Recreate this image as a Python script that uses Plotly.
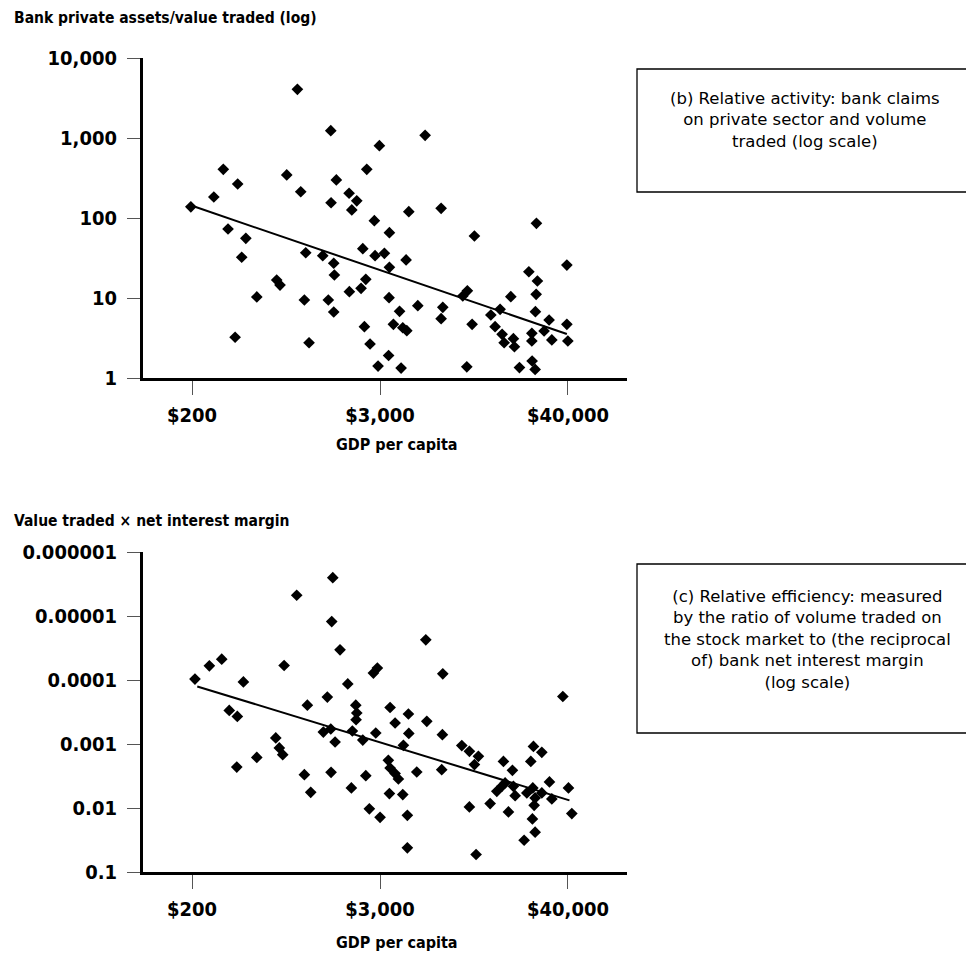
import plotly.graph_objects as go

# ---------------- data ----------------
# Panel (b): GDP per capita ($) vs bank private assets / value traded
gdp_b = [910, 1470, 2955, 314, 781, 2465, 386, 1592, 274, 955,
         1912, 2135, 1476, 1988, 197, 2749, 3412, 336, 434, 409,
         1026, 1310, 1534, 1548, 2328, 2777, 3175, 3412, 676, 709,
         2431, 2271, 1920, 508, 1006, 1419, 1534, 3395, 3948, 372,
         1076, 2383, 2584, 3613, 2899, 3372, 4036,
         5699, 4508, 7172, 11570, 28195, 4337, 43650, 25285, 28590, 28080,
         10455, 9789, 5131, 7346, 7172, 19517, 16731, 14650, 27780, 11193,
         4134, 4381, 15569, 17222, 17731, 20251, 20556, 26393, 26393, 33825,
         31477, 35170, 43650, 44270, 10372, 22092, 26500, 27670]
val_b = [4060, 1234, 801, 406, 345, 406, 266, 299, 183, 213,
         204, 164, 155, 126, 138, 92.5, 65.5, 72.9, 55.7, 32.3,
         36.8, 33.8, 27.2, 19.4, 41.3, 33.8, 36.2, 24.2, 16.8, 14.5,
         17.1, 13.2, 12.0, 10.3, 9.44, 9.44, 6.68, 10.1, 6.82, 3.23,
         2.76, 4.38, 2.66, 4.69, 1.41, 1.91, 1.33,
         1081, 120, 132, 59.6, 85.9, 29.9, 25.8, 21.3, 16.3, 11.1,
         12.3, 10.6, 8.01, 7.65, 5.51, 10.4, 7.22, 6.13, 6.74, 4.69,
         4.25, 3.90, 4.38, 3.52, 2.76, 3.10, 2.46, 3.62, 2.90, 5.31,
         3.87, 2.99, 4.69, 2.90, 1.38, 1.35, 1.63, 1.28]
trend_b_x = [209, 43650]
trend_b_y = [138, 3.55]

# Panel (c): GDP per capita ($) vs value traded x net interest margin
gdp_c = [1513, 901, 1490, 1679, 307, 257, 752, 209, 419, 1876,
         2870, 2711, 1050, 1399, 2105, 2135, 2114, 3446, 3703, 342,
         384, 1321, 1470, 1564, 2004, 2328, 2805, 667, 702, 737,
         508, 381, 1006, 1476, 2431, 3361, 3446, 3703, 1102, 1976,
         3412, 2558, 2984,
         5756, 7346, 41190, 4484, 5838, 4508, 7303, 4171, 9652, 10763,
         12250, 11570, 27010, 30460, 26004, 17553, 19969, 3882, 5054, 7233,
         4134, 4416, 4416, 10763, 11850, 14500, 15962, 17154, 17981, 18860,
         20251, 20765, 24564, 26770, 27670, 27286, 30460, 35170, 33990, 44670,
         46870, 26610, 27670, 23623]
val_c = [2.52e-6, 4.74e-6, 1.22e-5, 3.38e-5, 4.72e-5, 6.0e-5, 5.94e-5, 9.68e-5, 1.07e-4, 1.15e-4,
         6.51e-5, 7.80e-5, 2.47e-4, 1.85e-4, 2.47e-4, 3.28e-4, 4.18e-4, 2.69e-4, 4.70e-4, 2.99e-4,
         3.71e-4, 6.50e-4, 5.83e-4, 9.31e-4, 6.26e-4, 8.67e-4, 6.73e-4, 8.05e-4, 1.15e-3, 1.47e-3,
         1.62e-3, 2.29e-3, 3.01e-3, 2.77e-3, 3.13e-3, 1.80e-3, 2.37e-3, 2.90e-3, 5.69e-3, 4.85e-3,
         5.96e-3, 1.03e-2, 1.40e-2,
         2.36e-5, 8.0e-5, 1.81e-4, 3.40e-4, 4.43e-4, 6.84e-4, 7.16e-4, 1.05e-3, 1.06e-3, 1.30e-3,
         1.56e-3, 2.10e-3, 1.09e-3, 1.35e-3, 1.87e-3, 1.87e-3, 2.58e-3, 3.52e-3, 2.74e-3, 2.52e-3,
         6.18e-3, 1.30e-2, 4.19e-2, 9.62e-3, 5.33e-2, 8.53e-3, 5.48e-3, 4.58e-3, 4.05e-3, 1.15e-2,
         4.58e-3, 6.41e-3, 5.81e-3, 4.85e-3, 6.95e-3, 9.08e-3, 5.81e-3, 7.21e-3, 3.92e-3, 4.85e-3,
         1.22e-2, 1.48e-2, 2.39e-2, 3.19e-2]
trend_c_x = [216, 45300]
trend_c_y = [1.26e-4, 7.59e-3]

# tick labels
x_tickvals = [200.34, 2981, 44356]
x_ticktext = ["$200", "$3,000", "$40,000"]
yb_tickvals = [1, 10, 100, 1000, 10000]
yb_ticktext = ["1", "10", "100", "1,000", "10,000"]
yc_tickvals = [1e-6, 1e-5, 1e-4, 1e-3, 1e-2, 1e-1]
yc_ticktext = ["0.000001", "0.00001", "0.0001", "0.001", "0.01", "0.1"]

title_b = "Bank private assets/value traded (log)"
title_c = "Value traded \u00d7 net interest margin"
x_title = "GDP per capita"
box_b_lines = ["(b) Relative activity: bank claims",
               "on private sector and volume",
               "traded (log scale)"]
box_c_lines = ["(c) Relative efficiency: measured",
               "by the ratio of volume traded on",
               "the stock market to (the reciprocal",
               "of) bank net interest margin",
               "(log scale)"]

# ---------------- figure ----------------
BODY = 8                      # default page margin around the plot div
W, H = 974 - 2 * BODY, 961 - 2 * BODY
BOLD = "DejaVu Sans Condensed, Liberation Sans Narrow, sans-serif"
REG = "DejaVu Sans, Verdana, sans-serif"


def px(x):
    return (x - BODY) / W


def py(y):
    return 1 - (y - BODY) / H


fig = go.Figure()
marker = dict(symbol="diamond", size=9, color="black", line=dict(width=0))

fig.add_trace(go.Scatter(x=gdp_b, y=val_b, mode="markers", marker=marker,
                         xaxis="x", yaxis="y", showlegend=False))
fig.add_trace(go.Scatter(x=trend_b_x, y=trend_b_y, mode="lines",
                         line=dict(color="black", width=2),
                         xaxis="x", yaxis="y", showlegend=False))
fig.add_trace(go.Scatter(x=gdp_c, y=val_c, mode="markers", marker=marker,
                         xaxis="x2", yaxis="y2", showlegend=False))
fig.add_trace(go.Scatter(x=trend_c_x, y=trend_c_y, mode="lines",
                         line=dict(color="black", width=2),
                         xaxis="x2", yaxis="y2", showlegend=False))

xdom = [px(143), px(627)]
xrange_log = [1.9960, 5.0151]
tickfont = dict(family=BOLD, size=20, color="black", weight="bold")
common_x = dict(type="log", range=xrange_log, domain=xdom, showgrid=False, zeroline=False,
                showline=True, linewidth=3, linecolor="black", automargin=False,
                ticks="outside", ticklen=14, tickwidth=1, tickcolor="#555",
                tickvals=x_tickvals, ticktext=x_ticktext, ticklabelstandoff=3,
                tickfont=tickfont)
common_y = dict(type="log", showgrid=False, zeroline=False, automargin=False,
                showline=True, linewidth=3, linecolor="black",
                ticks="outside", ticklen=13, tickwidth=1, tickcolor="#555",
                ticklabelstandoff=6, tickfont=tickfont)

fig.update_layout(
    width=W, height=H,
    margin=dict(l=0, r=0, t=0, b=0, pad=0, autoexpand=False),
    paper_bgcolor="white", plot_bgcolor="white",
    xaxis=dict(common_x, anchor="y"),
    yaxis=dict(common_y, anchor="x", range=[0, 4], domain=[py(378), py(58)],
               tickvals=yb_tickvals, ticktext=yb_ticktext),
    xaxis2=dict(common_x, anchor="y2"),
    yaxis2=dict(common_y, anchor="x2", range=[-1, -6], domain=[py(872), py(552)],
                tickvals=yc_tickvals, ticktext=yc_ticktext),
)

title_font = dict(family=BOLD, size=15.5, color="black", weight="bold")
annotations = [
    dict(text=title_b, x=px(12), y=py(18), xanchor="left", yanchor="middle", font=title_font),
    dict(text=title_c, x=px(12), y=py(521), xanchor="left", yanchor="middle", font=title_font),
    dict(text=x_title, x=px(397), y=py(444), xanchor="center", yanchor="middle",
         font=dict(family=BOLD, size=16, color="black", weight="bold")),
    dict(text=x_title, x=px(397), y=py(942), xanchor="center", yanchor="middle",
         font=dict(family=BOLD, size=16, color="black", weight="bold")),
]
box_font = dict(family=REG, size=16.5, color="black")
annotations.append(dict(text="<br>".join(box_b_lines), x=px(805), y=py(120),
                        xanchor="center", yanchor="middle", align="center", font=box_font))
annotations.append(dict(text="<br>".join(box_c_lines), x=px(807), y=py(639),
                        xanchor="center", yanchor="middle", align="center", font=box_font))
for a in annotations:
    a.update(xref="paper", yref="paper", showarrow=False)
fig.update_layout(annotations=annotations)

fig.update_layout(shapes=[
    dict(type="rect", xref="paper", yref="paper", x0=px(637), x1=px(972), y0=py(192), y1=py(69),
         line=dict(color="black", width=1.3)),
    dict(type="rect", xref="paper", yref="paper", x0=px(637), x1=px(972), y0=py(733), y1=py(564),
         line=dict(color="black", width=1.3)),
])

fig.write_html("out.html")
